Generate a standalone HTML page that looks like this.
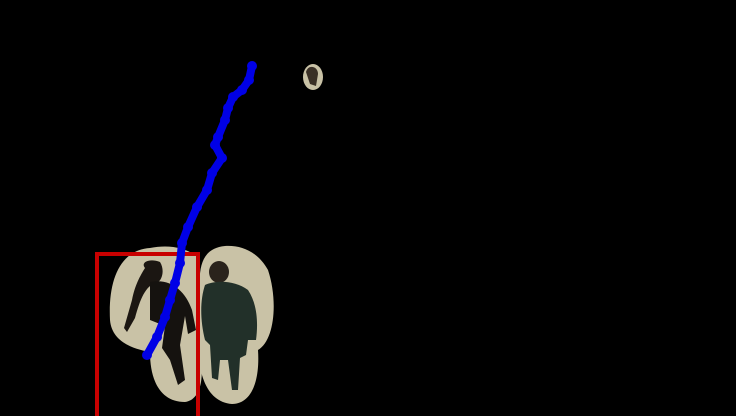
<!DOCTYPE html>
<html><head><meta charset="utf-8"><style>
html,body{margin:0;padding:0;background:#000;width:736px;height:416px;overflow:hidden}
</style></head><body>
<svg id="scene" width="736" height="416" viewBox="0 0 736 416" xmlns="http://www.w3.org/2000/svg">
<rect width="736" height="416" fill="#000"/>
<g>
<path d="M150 248 C120 250 108 280 110 320 C112 345 140 350 150 352 C150 380 160 402 185 402 C200 400 205 380 200 350 L200 260 C190 248 170 244 150 248 Z" fill="#c9c2a6"/>
<path d="M145 268 C140 262 150 258 160 262 C165 270 162 280 158 282 C145 285 140 300 135 318 L127 332 L124 328 L132 300 C135 285 140 276 145 268 Z" fill="#1b1612"/>
<path d="M150 282 C170 278 185 290 192 310 L196 330 L188 334 L185 316 L180 345 L185 380 L178 385 L170 360 L162 348 L165 326 L150 320 Z" fill="#15120f"/>
</g>
<g>
<path d="M225 246 C205 248 198 262 200 290 L198 330 C196 370 205 402 232 404 C252 404 260 380 258 350 C275 340 278 300 268 270 C258 252 242 245 225 246 Z" fill="#c9c2a6"/>
<ellipse cx="219" cy="272" rx="10" ry="11" fill="#2a231c"/>
<path d="M205 285 C215 280 235 280 248 290 C258 305 258 325 256 340 L248 340 L246 355 L240 358 L238 390 L232 390 L228 360 L220 360 L218 380 L212 378 L210 345 L205 340 C200 320 200 300 205 285 Z" fill="#223029"/>
</g>
<ellipse cx="313" cy="77" rx="10" ry="13" fill="#c9c2a6"/>
<path d="M306 72 C308 64 318 66 318 74 L316 86 L310 84 Z" fill="#3a3026"/>
<rect x="97" y="254" width="101" height="170" fill="none" stroke="#c80000" stroke-width="4"/>
<g id="traj"></g>
</svg>
<script>
const trajX = [252,249,242,233,228,225,218,215,222,212,207,197,188,182,180,175,170,165,157,147];
const trajY = [66,80,90,97,108,120,137,145,158,173,190,207,227,243,263,283,300,317,337,355];
const g = document.getElementById('traj');
const ns = 'http://www.w3.org/2000/svg';
for (let i = 0; i < trajX.length - 1; i++) {
  const l = document.createElementNS(ns, 'line');
  l.setAttribute('x1', trajX[i]); l.setAttribute('y1', trajY[i]);
  l.setAttribute('x2', trajX[i+1]); l.setAttribute('y2', trajY[i+1]);
  l.setAttribute('stroke', '#0000e6'); l.setAttribute('stroke-width', '8'); l.setAttribute('stroke-linecap', 'round');
  
  
  g.appendChild(l);
}
for (let i = 0; i < trajX.length; i++) {
  const c = document.createElementNS(ns, 'circle');
  c.setAttribute('cx', trajX[i]); c.setAttribute('cy', trajY[i]); c.setAttribute('r', 5);
  c.setAttribute('fill', '#0000e6');
  
  
  g.appendChild(c);
}
</script>
</body></html>
